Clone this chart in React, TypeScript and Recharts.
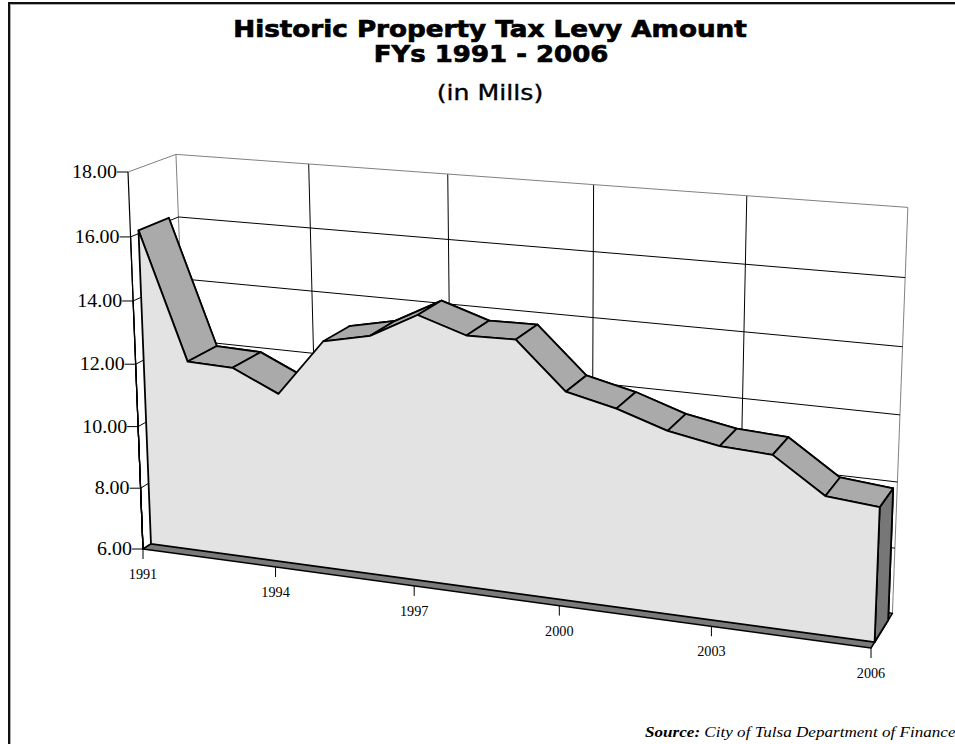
import React from "react";
import { AreaChart, Area, XAxis, YAxis } from "recharts";

const years = [
  "1991", "1992", "1993", "1994", "1995", "1996", "1997", "1998",
  "1999", "2000", "2001", "2002", "2003", "2004", "2005", "2006",
];
const levy = [
  16.1, 12.1, 12.05, 11.38, 13.17, 13.48, 14.25, 13.77,
  13.79, 12.38, 12.03, 11.53, 11.25, 11.16, 10.13, 9.99,
];
const yTicks = [6, 8, 10, 12, 14, 16, 18];

const data = years.map((year, i) => ({ year, levy: levy[i] }));

const W = 955;
const H = 744;
const M = { top: 100, right: 100, bottom: 100, left: 100 };
// axis sizes are 1px so both layers share the same plot box
const PL = M.left + 1;
const PT = M.top;
const PW = W - M.left - M.right - 1;
const PH = H - M.top - M.bottom - 1;

// front (axis) plane corners for (u,v) = (0,0) (1,0) (1,1) (0,1)
const FRONT = [
  [143, 549],
  [871, 648],
  [887, 227],
  [128, 172],
];
const VP = [1471, -322]; // depth vanishing point
const DF = 0.006; // front face of the area
const DB = 0.0286; // back face of the area
const DW = 0.0357; // back wall

function homography(q: number[][]) {
  const [[x0, y0], [x1, y1], [x2, y2], [x3, y3]] = q;
  const dx1 = x1 - x2, dx2 = x3 - x2, sx = x0 - x1 + x2 - x3;
  const dy1 = y1 - y2, dy2 = y3 - y2, sy = y0 - y1 + y2 - y3;
  const den = dx1 * dy2 - dx2 * dy1;
  const g = (sx * dy2 - dx2 * sy) / den;
  const h = (dx1 * sy - sx * dy1) / den;
  const a = x1 - x0 + g * x1, b = x3 - x0 + h * x3, c = x0;
  const d = y1 - y0 + g * y1, e = y3 - y0 + h * y3, f = y0;
  return (u: number, v: number) => {
    const w = g * u + h * v + 1;
    return [(a * u + b * v + c) / w, (d * u + e * v + f) / w];
  };
}

const H0 = homography(FRONT);
const proj = (u: number, v: number, d: number) => {
  const [x, y] = H0(u, v);
  return [x + d * (VP[0] - x), y + d * (VP[1] - y)];
};
const poly = (pts: number[][]) => pts.map((p) => p.join(",")).join(" ");
const toU = (x: number) => (x - PL) / PW;
const toV = (y: number) => (PT + PH - y) / PH;

const SERIF = "'Liberation Serif', 'Times New Roman', serif";
const SANS = "'DejaVu Sans', Verdana, sans-serif";

// text stretched horizontally like the original export
const SText = ({ x, y, sx = 1, children, ...rest }: any) => (
  <text transform={`translate(${x} ${y}) scale(${sx} 1)`} x={0} y={0} {...rest}>
    {children}
  </text>
);

const YTick = (props: any) => {
  const { y, payload } = props;
  const v = toV(y);
  const a = proj(0, v, 0);
  const b = proj(0, v, DW);
  const c = proj(1, v, DW);
  const top = v > 0.999;
  const bottom = proj(0, 0, 0);
  const col = top ? "#808080" : "#000";
  return (
    <g>
      <line x1={a[0]} y1={a[1]} x2={b[0]} y2={b[1]} stroke={col} strokeWidth={1} />
      <line x1={b[0]} y1={b[1]} x2={c[0]} y2={c[1]} stroke={col} strokeWidth={1} />
      <line x1={a[0]} y1={a[1]} x2={bottom[0]} y2={bottom[1]} stroke="#000" strokeWidth={1.2} />
      <line x1={a[0] - 11} y1={a[1]} x2={a[0]} y2={a[1]} stroke="#000" strokeWidth={1} />
      <SText x={a[0] - 11} y={a[1] + 6} sx={1.11} textAnchor="end" fontFamily={SERIF} fontSize={18} fill="#000">
        {Number(payload.value).toFixed(2)}
      </SText>
    </g>
  );
};

const XTick = (props: any) => {
  const { x, payload } = props;
  const u = toU(x);
  const a = proj(u, 0, 0);
  const w0 = proj(u, 0, DW);
  const w1 = proj(u, 1, DW);
  const edge = u < 0.001 || u > 0.999;
  return (
    <g>
      <line x1={w0[0]} y1={w0[1]} x2={w1[0]} y2={w1[1]} stroke={edge ? "#808080" : "#000"} strokeWidth={1} />
      <line x1={a[0]} y1={a[1]} x2={a[0]} y2={a[1] + 10} stroke="#000" strokeWidth={1} />
      <SText x={a[0]} y={a[1] + 30} sx={0.95} textAnchor="middle" fontFamily={SERIF} fontSize={15} fill="#000">
        {payload.value}
      </SText>
    </g>
  );
};

const renderScene = (props: any) => {
  const { index, points } = props;
  if (index !== 0 || !points) return <g key={`dot-${index}`} />;
  const uv = points.map((p: any) => [toU(p.x), toV(p.y)]);
  const u0 = uv[0][0];
  const [uL, vL] = uv[uv.length - 1];
  const F = uv.map(([u, v]: number[]) => proj(u, v, DF));
  const B = uv.map(([u, v]: number[]) => proj(u, v, DB));
  const floor = [proj(0, 0, 0), proj(1, 0, 0), proj(1, 0, DW), proj(0, 0, DW)];
  const back = [...B, proj(uL, 0, DB), proj(u0, 0, DB)];
  const side = [proj(uL, vL, DF), proj(uL, vL, DB), proj(uL, 0, DB), proj(uL, 0, DF)];
  const front = [...F, proj(uL, 0, DF), proj(u0, 0, DF)];
  const strips: React.ReactNode[] = [];
  for (let i = 0; i < F.length - 1; i++) {
    const f0 = F[i], f1 = F[i + 1], b0 = B[i], b1 = B[i + 1];
    const z = (f1[0] - f0[0]) * (b0[1] - f0[1]) - (f1[1] - f0[1]) * (b0[0] - f0[0]);
    if (z < 0) {
      strips.push(
        <polygon key={i} points={poly([f0, f1, b1, b0])} fill="#aaaaaa" stroke="#000" strokeWidth={1.8} strokeLinejoin="round" />
      );
    }
  }
  return (
    <g key="scene">
      <polygon points={poly(floor)} fill="#7a7a7a" stroke="#000" strokeWidth={1.5} strokeLinejoin="round" />
      <polygon points={poly(back)} fill="#aaaaaa" stroke="#000" strokeWidth={1.8} strokeLinejoin="round" />
      <polygon points={poly(side)} fill="#777777" stroke="#000" strokeWidth={1.8} strokeLinejoin="round" />
      {strips}
      <polygon points={poly(front)} fill="#e3e3e3" stroke="#000" strokeWidth={1.8} strokeLinejoin="round" />
    </g>
  );
};

const layer: React.CSSProperties = { position: "absolute", left: 0, top: 0 };

export default function App() {
  return (
    <div
      style={{
        position: "absolute",
        left: 0,
        top: 0,
        width: W,
        height: H,
        overflow: "hidden",
        background: "#fff",
      }}
    >
      <div
        style={{
          position: "absolute",
          left: 8,
          top: 2,
          width: 980,
          height: 780,
          borderLeft: "2px solid #111",
          borderTop: "2px solid #111",
          boxShadow: "inset 1px 1px 0 #aaa",
        }}
      />
      <div style={layer}>
        <AreaChart width={W} height={H} data={data} margin={M}>
          <XAxis dataKey="year" height={1} interval={2} axisLine={false} tickLine={false} tick={<XTick />} />
          <YAxis width={1} domain={[6, 18]} ticks={yTicks} interval={0} axisLine={false} tickLine={false} tick={<YTick />} />
          <Area dataKey="levy" stroke="none" fill="none" dot={false} activeDot={false} isAnimationActive={false} />
        </AreaChart>
      </div>
      <div style={layer}>
        <AreaChart width={W} height={H} data={data} margin={M}>
          <XAxis dataKey="year" height={1} axisLine={false} tickLine={false} tick={false} />
          <YAxis width={1} domain={[6, 18]} ticks={yTicks} axisLine={false} tickLine={false} tick={false} />
          <Area dataKey="levy" stroke="none" fill="none" dot={renderScene} activeDot={false} isAnimationActive={false} />
        </AreaChart>
      </div>
      <svg style={layer} width={W} height={H}>
        <SText x={490} y={37} sx={1.14} textAnchor="middle" fontFamily={SANS} fontWeight="bold" fontSize={23} fill="#000" stroke="#000" strokeWidth={0.7}>
          Historic Property Tax Levy Amount
        </SText>
        <SText x={491} y={62} sx={1.13} textAnchor="middle" fontFamily={SANS} fontWeight="bold" fontSize={23} fill="#000" stroke="#000" strokeWidth={0.7}>
          FYs 1991 - 2006
        </SText>
        <SText x={490} y={100} sx={1.2} textAnchor="middle" fontFamily={SANS} fontSize={21} fill="#000" stroke="#000" strokeWidth={0.35}>
          (in Mills)
        </SText>
        <SText x={645} y={737} sx={1.14} fontFamily={SERIF} fontStyle="italic" fontSize={15} fill="#000">
          <tspan fontWeight="bold">Source:</tspan> City of Tulsa Department of Finance
        </SText>
      </svg>
    </div>
  );
}
